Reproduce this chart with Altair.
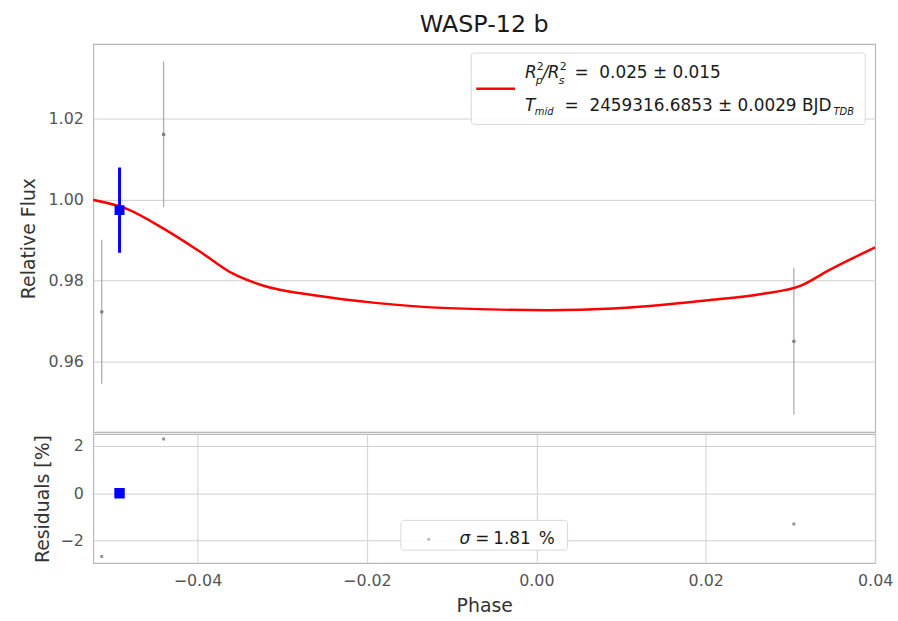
import altair as alt
import pandas as pd

title_text = "WASP-12 b"

# transit model
model_phase = [-0.0525, -0.0482, -0.0439, -0.0396, -0.0358, -0.0323, -0.0260, -0.0190,
               -0.0104, 0.0013, 0.0091, 0.0200, 0.0266, 0.0313, 0.0344, 0.0400]
model_flux = [1.0000, 0.9976, 0.9927, 0.9870, 0.9817, 0.9788, 0.9763, 0.9745,
              0.9732, 0.9727, 0.9731, 0.9751, 0.9767, 0.9788, 0.9824, 0.9882]

# raw observations
obs_phase = [-0.0513, -0.0440, 0.0304]
obs_flux = [0.9723, 1.0161, 0.9650]
obs_err = [0.0178, 0.0180, 0.0181]
obs_resid = [-2.67, 2.29, -1.30]

# binned observation
bin_phase = [-0.0492]
bin_flux = [0.9974]
bin_err = [0.0105]
bin_resid = [0.0]

x_ticks = [-0.04, -0.02, 0.0, 0.02, 0.04]
flux_ticks = [0.96, 0.98, 1.00, 1.02]
resid_ticks = [-2, 0, 2]

x_domain = [-0.0523, 0.04]
flux_domain = [0.9426, 1.0384]
resid_domain = [-2.95, 2.5]

rp_rs2, rp_rs2_err = 0.025, 0.015
t_mid, t_mid_err = 2459316.6853, 0.0029
sigma_pct = 1.81

df_model = pd.DataFrame({"phase": model_phase, "flux": model_flux})
df_obs = pd.DataFrame({"phase": obs_phase, "flux": obs_flux, "err": obs_err, "resid": obs_resid})
df_obs["lo"] = df_obs["flux"] - df_obs["err"]
df_obs["hi"] = df_obs["flux"] + df_obs["err"]
df_bin = pd.DataFrame({"phase": bin_phase, "flux": bin_flux, "err": bin_err, "resid": bin_resid})
df_bin["lo"] = df_bin["flux"] - df_bin["err"]
df_bin["hi"] = df_bin["flux"] + df_bin["err"]
one = pd.DataFrame({"k": [0]})

FONT = "DejaVu Sans"
W, H_TOP, H_BOT = 788, 391, 130
PL = 92  # plot-area left in the page, used to express annotation offsets

xs = alt.Scale(domain=x_domain, nice=False, zero=False)
ys_top = alt.Scale(domain=flux_domain, nice=False, zero=False)
ys_bot = alt.Scale(domain=resid_domain, nice=False, zero=False)

ax_top_y = alt.Axis(values=flux_ticks, format=".2f", title="Relative Flux", grid=True,
                    ticks=False, tickSize=0, domain=False, labelPadding=10, titlePadding=10)
ax_bot_y = alt.Axis(values=resid_ticks, format="d", title="Residuals [%]", grid=True,
                    ticks=False, tickSize=0, domain=False, labelPadding=10, titlePadding=8)
ax_bot_x = alt.Axis(values=x_ticks, format=".2f", title="Phase", grid=True, ticks=False,
                    tickSize=0, domain=False, labelPadding=10, titlePadding=8, labelFlush=False)

X_top = lambda: alt.X("phase:Q", scale=xs, axis=None)
X_bot = lambda: alt.X("phase:Q", scale=xs, axis=ax_bot_x)

# ---------- top panel ----------
obs_err_l = alt.Chart(df_obs).mark_rule(color="#9a9a9a", strokeWidth=1.3, opacity=0.8, clip=True).encode(
    x=X_top(), y=alt.Y("lo:Q", scale=ys_top, axis=ax_top_y), y2="hi:Q")
obs_pt_l = alt.Chart(df_obs).mark_circle(size=14, color="#7a7a7a", opacity=0.9, clip=True).encode(
    x=X_top(), y=alt.Y("flux:Q", scale=ys_top, axis=ax_top_y))
model_l = alt.Chart(df_model).mark_line(color="#ff0000", strokeWidth=2.5, interpolate="monotone", clip=True).encode(
    x=X_top(), y=alt.Y("flux:Q", scale=ys_top, axis=ax_top_y))
bin_err_l = alt.Chart(df_bin).mark_rule(color="#0000ff", strokeWidth=3, clip=True).encode(
    x=X_top(), y=alt.Y("lo:Q", scale=ys_top, axis=ax_top_y), y2="hi:Q")
bin_pt_l = alt.Chart(df_bin).mark_square(size=100, color="#0000ff", opacity=1, clip=True).encode(
    x=X_top(), y=alt.Y("flux:Q", scale=ys_top, axis=ax_top_y))

# legend box (annotation)
leg_box = alt.Chart(one).mark_rect(fill="white", fillOpacity=0.85, stroke="#d8d8d8", strokeWidth=1,
                                   cornerRadius=3).encode(
    x=alt.value(381), x2=alt.value(778), y=alt.value(9), y2=alt.value(81))
leg_line = alt.Chart(one).mark_rule(color="#ff0000", strokeWidth=2.5).encode(
    x=alt.value(386), x2=alt.value(425), y=alt.value(45))

def txt(s, xabs, y, size=17, italic=False, color="#1a1a1a"):
    return alt.Chart(one).mark_text(text=s, align="left", baseline="alphabetic", font=FONT,
                                    fontSize=size, fontStyle="italic" if italic else "normal",
                                    color=color).encode(x=alt.value(xabs - PL), y=alt.value(y))

L1, L2 = 34, 67
leg_txt = [
    txt("R", 527, L1, italic=True),
    txt("2", 539, L1 - 8, size=11),
    txt("p", 538, L1 + 6, size=11, italic=True),
    txt("/", 545, L1, italic=True),
    txt("R", 550, L1, italic=True),
    txt("2", 562, L1 - 8, size=11),
    txt("s", 561, L1 + 6, size=11, italic=True),
    txt("=", 577, L1),
    txt(f"{rp_rs2:.3f} \u00b1 {rp_rs2_err:.3f}", 602, L1),
    txt("T", 527, L2, italic=True),
    txt("mid", 537, L2 + 4, size=10, italic=True),
    txt("=", 567, L2),
    txt(f"{t_mid:.4f} \u00b1 {t_mid_err:.4f} BJD", 592, L2),
    txt("TDB", 838, L2 + 4, size=10, italic=True),
]

top = alt.layer(obs_err_l, obs_pt_l, model_l, bin_err_l, bin_pt_l, leg_box, leg_line, *leg_txt).properties(
    width=W, height=H_TOP,
    title=alt.TitleParams(title_text, fontSize=24, font=FONT, fontWeight="normal", color="#1a1a1a",
                          anchor="middle", frame="group", offset=7))

# ---------- bottom panel ----------
res_pt_l = alt.Chart(df_obs).mark_circle(size=12, color="#8a8a8a", opacity=0.9, clip=True).encode(
    x=X_bot(), y=alt.Y("resid:Q", scale=ys_bot, axis=ax_bot_y))
res_bin_l = alt.Chart(df_bin).mark_square(size=110, color="#0000ff", opacity=1, clip=True).encode(
    x=X_bot(), y=alt.Y("resid:Q", scale=ys_bot, axis=ax_bot_y))

sig_box = alt.Chart(one).mark_rect(fill="white", fillOpacity=0.85, stroke="#d8d8d8", strokeWidth=1,
                                   cornerRadius=3).encode(
    x=alt.value(310), x2=alt.value(478), y=alt.value(87), y2=alt.value(117))
sig_dot = alt.Chart(one).mark_circle(size=10, color="#9a9a9a").encode(x=alt.value(338), y=alt.value(106))
sig_txt = [
    txt("\u03c3", 461, 111, italic=True),
    txt("=", 477, 111),
    txt(f"{sigma_pct:.2f}", 495, 111),
    txt("%", 541, 111),
]

bottom = alt.layer(res_pt_l, res_bin_l, sig_box, sig_dot, *sig_txt).properties(width=W, height=H_BOT)

chart = alt.vconcat(top, bottom, spacing=0).configure_view(
    stroke="#b8b8b8", strokeWidth=1.2
).configure_axis(
    labelFont=FONT, titleFont=FONT, labelFontSize=16, titleFontSize=19, labelColor="#555555",
    titleColor="#333333", titleFontWeight="normal", gridColor="#d0d0d0", gridWidth=1
).properties(
    padding={"left": 18, "top": 10, "right": 4, "bottom": 4}, background="white"
)

chart.save("out.html", embed_options={"renderer": "svg", "actions": False})
